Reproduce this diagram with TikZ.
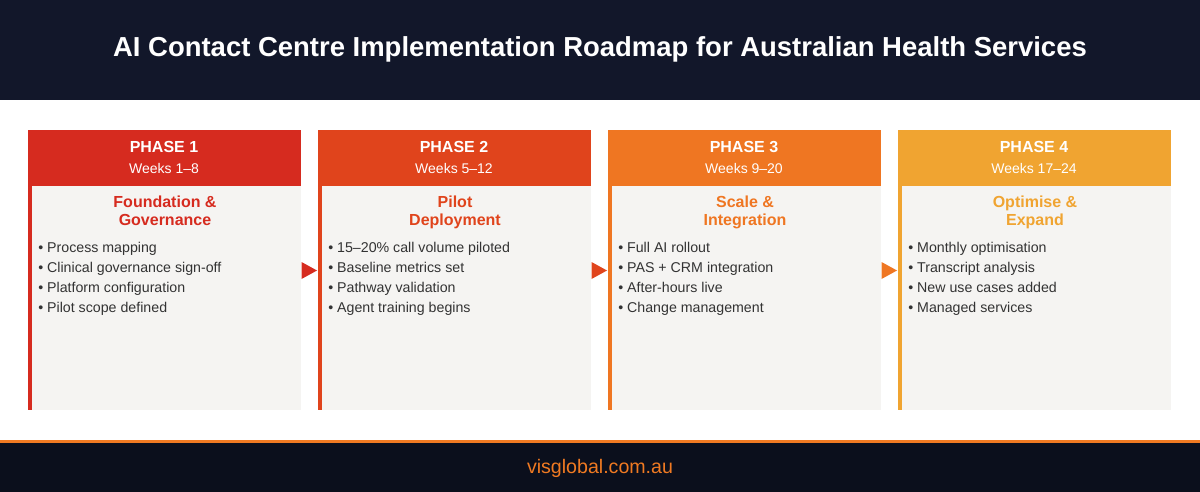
\documentclass[tikz,border=0pt]{standalone}
\usepackage{fontspec}
\setmainfont{Liberation Sans}
\usetikzlibrary{calc}
\definecolor{navy}{HTML}{12172A}
\definecolor{footbg}{HTML}{0B0F1C}
\definecolor{pone}{HTML}{D62B1F}
\definecolor{ptwo}{HTML}{E0441C}
\definecolor{pthree}{HTML}{EF7622}
\definecolor{pfour}{HTML}{F0A431}
\definecolor{cardbg}{HTML}{F5F4F2}
\definecolor{txt}{HTML}{333333}
\definecolor{footorange}{HTML}{F07A22}
\tikzset{
  hdr/.style={rectangle, inner sep=0pt, anchor=north west, minimum width=204.75pt, minimum height=42pt},
  body/.style={rectangle, inner sep=0pt, anchor=north west, fill=cardbg, minimum width=201.75pt, minimum height=168pt},
  ptitle/.style={anchor=base, inner sep=0pt, text=white, font=\fontsize{12}{14}\selectfont\bfseries},
  pweeks/.style={anchor=base, inner sep=0pt, text=white, font=\fontsize{10.5}{12}\selectfont},
  btitle/.style={anchor=base, inner sep=0pt, font=\fontsize{12}{14}\selectfont\bfseries},
  bullet/.style={anchor=base west, inner sep=0pt, text=txt, font=\fontsize{10.65}{12}\selectfont},
}
\begin{document}
\begin{tikzpicture}[x=0.75pt,y=-0.75pt]
\fill[white] (0,0) rectangle (1200,492);
% header band
\fill[navy] (0,0) rectangle (1200,100);
\node[anchor=base, inner sep=0pt, text=white, font=\fontsize{20.6}{22}\selectfont\bfseries] (title) at (600,57) {AI Contact Centre Implementation Roadmap for Australian Health Services};
% footer
\fill[footorange] (0,440) rectangle (1200,443);
\fill[footbg] (0,443) rectangle (1200,492);
\node[anchor=base, inner sep=0pt, text=footorange, font=\fontsize{14.7}{16}\selectfont] (foot) at (600,473) {visglobal.com.au};

% cards
\foreach \i/\x/\c in {1/28/pone, 2/318/ptwo, 3/608/pthree, 4/898/pfour}{
  \node[hdr, fill=\c] (h\i) at (\x,130) {};
  \node[body] (b\i) at (\x+4,186) {};
  \fill[\c] (\x,186) rectangle (\x+4,410);
}

% Phase 1
\node[ptitle] (p1) at (164,152) {PHASE 1};
\node[pweeks] (w1) at (164,173) {Weeks 1–8};
\node[btitle, text=pone] (t1a) at (165,207) {Foundation \&};
\node[btitle, text=pone] (t1b) at (165,225) {Governance};
\node[bullet] (l1a) at (38,252) {• Process mapping};
\node[bullet] (l1b) at (38,272) {• Clinical governance sign-off};
\node[bullet] (l1c) at (38,292) {• Platform configuration};
\node[bullet] (l1d) at (38,312) {• Pilot scope defined};

% Phase 2
\node[ptitle] (p2) at (454,152) {PHASE 2};
\node[pweeks] (w2) at (454,173) {Weeks 5–12};
\node[btitle, text=ptwo] (t2a) at (455,207) {Pilot};
\node[btitle, text=ptwo] (t2b) at (455,225) {Deployment};
\node[bullet] (l2a) at (328,252) {• 15–20\% call volume piloted};
\node[bullet] (l2b) at (328,272) {• Baseline metrics set};
\node[bullet] (l2c) at (328,292) {• Pathway validation};
\node[bullet] (l2d) at (328,312) {• Agent training begins};

% Phase 3
\node[ptitle] (p3) at (744,152) {PHASE 3};
\node[pweeks] (w3) at (744,173) {Weeks 9–20};
\node[btitle, text=pthree] (t3a) at (745,207) {Scale \&};
\node[btitle, text=pthree] (t3b) at (745,225) {Integration};
\node[bullet] (l3a) at (618,252) {• Full AI rollout};
\node[bullet] (l3b) at (618,272) {• PAS + CRM integration};
\node[bullet] (l3c) at (618,292) {• After-hours live};
\node[bullet] (l3d) at (618,312) {• Change management};

% Phase 4
\node[ptitle] (p4) at (1034,152) {PHASE 4};
\node[pweeks] (w4) at (1034,173) {Weeks 17–24};
\node[btitle, text=pfour] (t4a) at (1035,207) {Optimise \&};
\node[btitle, text=pfour] (t4b) at (1035,225) {Expand};
\node[bullet] (l4a) at (908,252) {• Monthly optimisation};
\node[bullet] (l4b) at (908,272) {• Transcript analysis};
\node[bullet] (l4c) at (908,292) {• New use cases added};
\node[bullet] (l4d) at (908,312) {• Managed services};

% arrows between phases
\coordinate (mid) at (0,270.5);
\foreach \a/\b/\c in {1/2/pone, 2/3/ptwo, 3/4/pthree}{
  \fill[\c] ($(b\a.east|-mid)+(0,-8.5)$) -- ($(h\b.west|-mid)+(-1,0)$) -- ($(b\a.east|-mid)+(0,8.5)$) -- cycle;
}
\end{tikzpicture}
\end{document}
